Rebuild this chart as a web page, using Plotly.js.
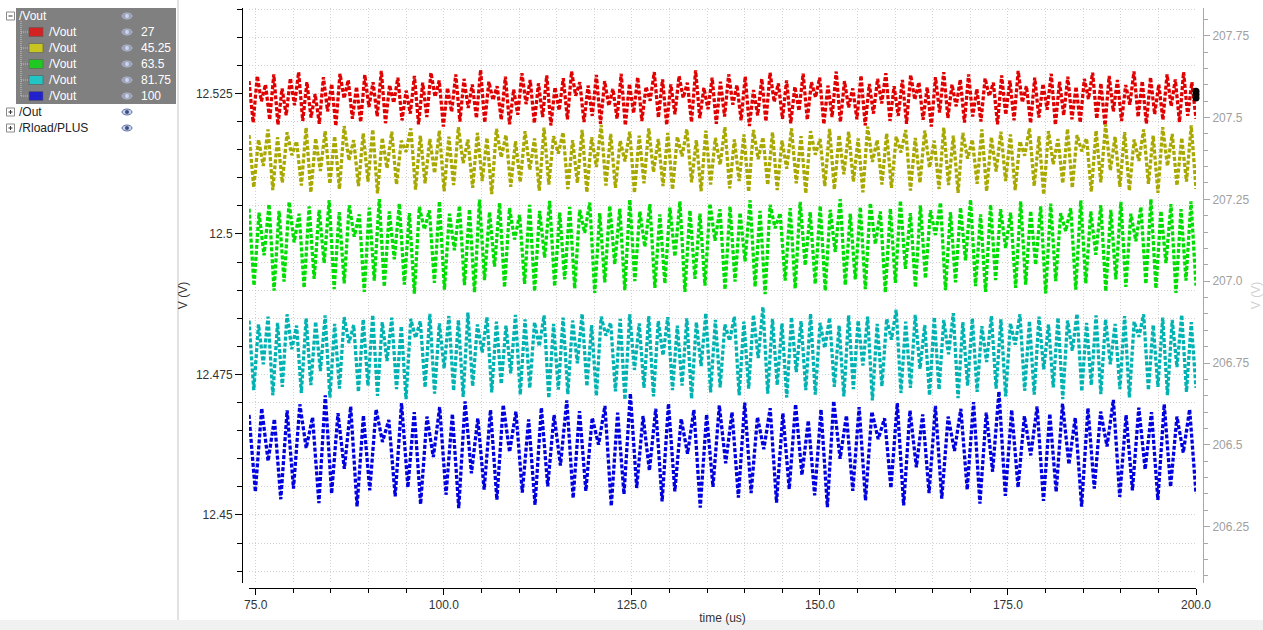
<!DOCTYPE html>
<html>
<head>
<meta charset="utf-8">
<script src="https://cdn.plot.ly/plotly-3.0.1.min.js"></script>
<style>
html,body{margin:0;padding:0;background:#fff;overflow:hidden;}
#chart{width:1263px;height:630px;}
</style>
</head>
<body>
<div id="chart"></div>
<script>
// ---------------- DATA ----------------
const timeStartUs = 74.1;
const timeEndUs = 200.0;

const seriesNames = ["/Vout", "/Vout", "/Vout", "/Vout", "/Vout"];
const seriesParams = ["27", "45.25", "63.5", "81.75", "100"];
const seriesColors = ["#e00000", "#a8a800", "#00dd00", "#00b2b2", "#0000e0"];
const swatchColors = ["#d42222", "#c8c420", "#22c822", "#22c4c4", "#2222cc"];

// ripple samples (V)
const vout27 = [
12.5272,12.5198,12.5281,12.5236,12.5266,12.5203,12.5284,12.5194,12.5259,12.5211,12.5277,12.5229,12.5288,12.5201,12.5270,12.5207,12.5249,12.5196,12.5279,12.5218,
12.5267,12.5192,12.5285,12.5241,12.5274,12.5205,12.5262,12.5199,12.5283,12.5226,12.5270,12.5209,12.5290,12.5197,12.5265,12.5233,12.5278,12.5202,12.5255,12.5214,
12.5281,12.5195,12.5269,12.5208,12.5287,12.5244,12.5273,12.5191,12.5260,12.5217,12.5284,12.5200,12.5276,12.5224,12.5266,12.5206,12.5292,12.5198,12.5271,12.5238,
12.5263,12.5203,12.5280,12.5195,12.5257,12.5212,12.5286,12.5231,12.5274,12.5197,12.5268,12.5208,12.5282,12.5193,12.5261,12.5220,12.5277,12.5204,12.5289,12.5246,
12.5270,12.5199,12.5264,12.5210,12.5283,12.5196,12.5272,12.5228,12.5258,12.5205,12.5285,12.5193,12.5267,12.5215,12.5279,12.5201,12.5262,12.5237,12.5288,12.5207,
12.5275,12.5194,12.5266,12.5213,12.5281,12.5242,12.5269,12.5199,12.5291,12.5206,12.5260,12.5222,12.5278,12.5196,12.5271,12.5209,12.5284,12.5230,12.5265,12.5202,
12.5280,12.5192,12.5256,12.5211,12.5276,12.5200,12.5287,12.5235,12.5268,12.5205,12.5273,12.5197,12.5262,12.5219,12.5285,12.5203,12.5270,12.5243,12.5278,12.5195,
12.5264,12.5208,12.5289,12.5199,12.5272,12.5225,12.5259,12.5204,12.5282,12.5193,12.5267,12.5214,12.5276,12.5232,12.5286,12.5201,12.5263,12.5210,12.5274,12.5196,
12.5283,12.5239,12.5270,12.5203,12.5261,12.5191,12.5279,12.5216,12.5288,12.5206,12.5266,12.5227,12.5275,12.5198,12.5284,12.5209,12.5258,12.5200,12.5277,12.5245,
12.5269,12.5195,12.5282,12.5212,12.5273,12.5202,12.5290,12.5234,12.5263,12.5197,12.5278,12.5207,12.5267,12.5221,12.5285,12.5194,12.5271,12.5211,12.5280,12.5204,
12.5262,12.5198,12.5276,12.5240,12.5287,12.5205,12.5268,12.5193,12.5281,12.5218,12.5274,12.5201,12.5265,12.5230,12.5289,12.5208,12.5272,12.5196,12.5279,12.5213,
12.5266,12.5203,12.5284,12.5227,12.5275,12.5199,12.5288,12.5210,12.5270,12.5205
];
const vout45 = [
12.5176,12.5083,12.5168,12.5121,12.5186,12.5078,12.5172,12.5091,12.5181,12.5140,12.5165,12.5086,12.5189,12.5074,12.5170,12.5112,12.5183,12.5089,12.5174,12.5080,
12.5192,12.5131,12.5167,12.5085,12.5179,12.5093,12.5186,12.5072,12.5171,12.5117,12.5182,12.5088,12.5166,12.5146,12.5188,12.5079,12.5175,12.5090,12.5169,12.5108,
12.5184,12.5076,12.5173,12.5087,12.5190,12.5126,12.5168,12.5082,12.5180,12.5094,12.5171,12.5071,12.5187,12.5136,12.5176,12.5084,12.5165,12.5092,12.5183,12.5114,
12.5170,12.5077,12.5189,12.5088,12.5174,12.5143,12.5181,12.5080,12.5167,12.5091,12.5185,12.5074,12.5172,12.5119,12.5194,12.5086,12.5178,12.5082,12.5166,12.5129,
12.5182,12.5073,12.5175,12.5090,12.5188,12.5110,12.5169,12.5085,12.5180,12.5079,12.5173,12.5138,12.5186,12.5092,12.5167,12.5076,12.5184,12.5088,12.5171,12.5123,
12.5190,12.5081,12.5168,12.5094,12.5177,12.5075,12.5185,12.5133,12.5172,12.5087,12.5181,12.5078,12.5166,12.5116,12.5188,12.5090,12.5174,12.5072,12.5183,12.5141,
12.5169,12.5085,12.5187,12.5079,12.5176,12.5106,12.5182,12.5093,12.5170,12.5074,12.5191,12.5128,12.5167,12.5088,12.5179,12.5082,12.5173,12.5145,12.5185,12.5077,
12.5171,12.5091,12.5184,12.5118,12.5166,12.5080,12.5189,12.5087,12.5175,12.5073,12.5180,12.5134,12.5168,12.5089,12.5186,12.5076,12.5172,12.5111,12.5182,12.5094,
12.5177,12.5078,12.5165,12.5139,12.5188,12.5085,12.5174,12.5070,12.5183,12.5124,12.5169,12.5090,12.5187,12.5082,12.5176,12.5147,12.5170,12.5075,12.5184,12.5092,
12.5195,12.5113,12.5173,12.5084,12.5181,12.5077,12.5168,12.5130,12.5186,12.5089,12.5175,12.5073,12.5190,12.5121,12.5178,12.5086,12.5171,12.5093,12.5193,12.5080
];
const vout63 = [
12.5045,12.4908,12.5038,12.4962,12.5053,12.4899,12.5041,12.4915,12.5057,12.4985,12.5036,12.4904,12.5049,12.4920,12.5043,12.4948,12.5060,12.4902,12.5039,12.4912,
12.5051,12.4995,12.5035,12.4897,12.5047,12.4917,12.5062,12.4906,12.5040,12.4955,12.5054,12.4910,12.5037,12.4894,12.5048,12.5008,12.5042,12.4913,12.5058,12.4901,
12.5036,12.4971,12.5050,12.4909,12.5044,12.4896,12.5061,12.4918,12.5039,12.4942,12.5055,12.4905,12.5046,12.4990,12.5034,12.4911,12.5052,12.4898,12.5041,12.4958,
12.5059,12.4907,12.5038,12.4919,12.5048,12.4903,12.5043,12.5002,12.5056,12.4895,12.5037,12.4914,12.5050,12.4946,12.5045,12.4900,12.5061,12.4916,12.5040,12.4977,
12.5053,12.4904,12.5035,12.4912,12.5047,12.4960,12.5058,12.4897,12.5042,12.4920,12.5036,12.4908,12.5054,12.4988,12.5044,12.4901,12.5049,12.4915,12.5038,12.4951,
12.5060,12.4906,12.5041,12.4893,12.5052,12.5010,12.5037,12.4917,12.5046,12.4903,12.5057,12.4944,12.5039,12.4911,12.5050,12.4899,12.5043,12.4968,12.5062,12.4909,
12.5036,12.4919,12.5048,12.4902,12.5055,12.4982,12.5040,12.4896,12.5045,12.4913,12.5059,12.4938,12.5037,12.4905,12.5051,12.4921,12.5042,12.4998,12.5056,12.4900,
12.5039,12.4914,12.5047,12.4953,12.5061,12.4907,12.5035,12.4897,12.5052,12.4918,12.5044,12.4975,12.5038,12.4904,12.5058,12.4910,12.5041,12.4945,12.5049,12.4894,
12.5054,12.4916,12.5037,12.5005,12.5046,12.4901,12.5060,12.4912,12.5040,12.4963,12.5051,12.4898,12.5043,12.4919,12.5057,12.4906,12.5036,12.4987,12.5048,12.4911,
12.5062,12.4903,12.5041,12.4948,12.5053,12.4895,12.5044,12.4917,12.5058,12.4908
];
const vout81 = [
12.4846,12.4722,12.4839,12.4768,12.4853,12.4713,12.4842,12.4728,12.4857,12.4795,12.4837,12.4717,12.4850,12.4731,12.4844,12.4756,12.4855,12.4709,12.4840,12.4725,
12.4852,12.4806,12.4838,12.4719,12.4848,12.4730,12.4856,12.4712,12.4843,12.4774,12.4851,12.4724,12.4836,12.4706,12.4849,12.4815,12.4845,12.4727,12.4858,12.4716,
12.4841,12.4761,12.4854,12.4721,12.4847,12.4710,12.4860,12.4729,12.4839,12.4789,12.4852,12.4718,12.4844,12.4733,12.4837,12.4752,12.4856,12.4714,12.4848,12.4726,
12.4843,12.4800,12.4855,12.4708,12.4840,12.4723,12.4851,12.4715,12.4846,12.4770,12.4858,12.4729,12.4838,12.4712,12.4853,12.4819,12.4842,12.4720,12.4849,12.4705,
12.4857,12.4758,12.4841,12.4726,12.4854,12.4711,12.4845,12.4784,12.4852,12.4722,12.4837,12.4730,12.4850,12.4707,12.4843,12.4765,12.4859,12.4718,12.4847,12.4727,
12.4839,12.4810,12.4853,12.4713,12.4844,12.4725,12.4856,12.4779,12.4870,12.4716,12.4849,12.4731,12.4841,12.4709,12.4852,12.4754,12.4845,12.4722,12.4858,12.4714,
12.4842,12.4797,12.4851,12.4728,12.4837,12.4711,12.4855,12.4724,12.4846,12.4766,12.4853,12.4704,12.4840,12.4729,12.4849,12.4812,12.4865,12.4717,12.4844,12.4726,
12.4856,12.4760,12.4838,12.4713,12.4852,12.4723,12.4847,12.4786,12.4859,12.4708,12.4843,12.4730,12.4850,12.4719,12.4836,12.4772,12.4854,12.4725,12.4848,12.4711,
12.4841,12.4803,12.4857,12.4721,12.4845,12.4714,12.4853,12.4759,12.4839,12.4727,12.4851,12.4706,12.4846,12.4792,12.4858,12.4720,12.4842,12.4731,12.4855,12.4715,
12.4848,12.4768,12.4840,12.4724,12.4854,12.4709,12.4844,12.4817,12.4857,12.4722,12.4838,12.4728,12.4851,12.4713,12.4847,12.4763,12.4856,12.4719,12.4843,12.4726
];
const vout100 = [
12.4678,12.4541,12.4690,12.4596,12.4671,12.4528,12.4686,12.4547,12.4697,12.4619,12.4674,12.4521,12.4713,12.4538,12.4681,12.4582,12.4693,12.4515,12.4677,12.4544,
12.4688,12.4630,12.4669,12.4533,12.4699,12.4549,12.4683,12.4519,12.4675,12.4603,12.4692,12.4536,12.4680,12.4512,12.4702,12.4574,12.4672,12.4545,12.4687,12.4527,
12.4696,12.4612,12.4684,12.4540,12.4670,12.4518,12.4691,12.4551,12.4678,12.4588,12.4704,12.4530,12.4685,12.4543,12.4673,12.4625,12.4694,12.4516,12.4682,12.4537,
12.4716,12.4548,12.4676,12.4579,12.4689,12.4524,12.4698,12.4542,12.4671,12.4609,12.4687,12.4513,12.4679,12.4550,12.4695,12.4592,12.4683,12.4531,12.4700,12.4539,
12.4674,12.4617,12.4690,12.4522,12.4681,12.4546,12.4697,12.4571,12.4668,12.4535,12.4688,12.4514,12.4703,12.4600,12.4677,12.4543,12.4692,12.4526,12.4684,12.4635,
12.4672,12.4548,12.4699,12.4517,12.4686,12.4585,12.4679,12.4539,12.4694,12.4529,12.4675,12.4614,12.4689,12.4545,12.4701,12.4520,12.4682,12.4577,12.4720,12.4534,
12.4687,12.4549,12.4676,12.4606,12.4693,12.4525,12.4680,12.4541,12.4698,12.4590,12.4673,12.4515,12.4690,12.4547,12.4684,12.4622,12.4705,12.4532,12.4678,12.4544,
12.4691,12.4581,12.4683,12.4527,12.4697,12.4550,12.4675,12.4611,12.4688,12.4538
];
const seriesValues = [vout27, vout45, vout63, vout81, vout100];

// cursor marker at the end of the red trace (right axis units)
const cursorTime = [200.0, 200.0, 200.0];
const cursorLevel = [207.5805, 207.5703, 207.5600];

// axis ticks
const xTickVals = [75, 100, 125, 150, 175, 200];
const leftTickVals = [12.45, 12.475, 12.5, 12.525];
const leftTickText = ["12.45", "12.475", "12.5", "12.525"];
const rightTickVals = [206.25, 206.5, 206.75, 207.0, 207.25, 207.5, 207.75];
const rightTickText = ["206.25", "206.5", "206.75", "207.0", "207.25", "207.5", "207.75"];

// browser tree rows
const treeTopLabel = "/Vout";
const treeOthers = ["/Out", "/Rload/PLUS"];

// ---------------- LAYOUT HELPERS ----------------
const W = 1263, H = 630;
const fx = p => p / W;
const fy = p => 1 - p / H;
const FONT = "Liberation Sans, Arial, sans-serif";

function timeBase(n) {
  const step = (timeEndUs - timeStartUs) / (n - 1);
  return Array.from({length: n}, (_, i) => timeStartUs + i * step);
}

const traces = seriesValues.map((vals, k) => ({
  type: "scatter", mode: "lines",
  x: timeBase(vals.length), y: vals,
  name: seriesNames[k] + " " + seriesParams[k],
  line: {color: seriesColors[k], width: 3.3, dash: "4px,2px"},
  hoverinfo: "skip", showlegend: false
}));
traces.push({
  type: "scatter", mode: "markers", x: cursorTime, y: cursorLevel, yaxis: "y2",
  marker: {color: "#000000", size: 7, symbol: "circle", line: {width: 0}},
  cliponaxis: false, showlegend: false, hoverinfo: "skip"
});

const shapes = [];
const annotations = [];

shapes.push({type: "rect", xref: "paper", yref: "paper", x0: fx(16), x1: fx(176), y0: fy(8), y1: fy(104),
  fillcolor: "#808080", line: {width: 0}, layer: "above"});
shapes.push({type: "line", xref: "paper", yref: "paper", x0: fx(178), x1: fx(178), y0: fy(0), y1: fy(620),
  line: {color: "#c4c4c4", width: 1}});
shapes.push({type: "rect", xref: "paper", yref: "paper", x0: 0, x1: 1, y0: 0, y1: fy(620),
  fillcolor: "#f1f1f1", line: {width: 0}});

function expander(cy, plus) {
  shapes.push({type: "rect", xref: "paper", yref: "paper", x0: fx(6.5), x1: fx(14.5), y0: fy(cy + 4), y1: fy(cy - 4),
    fillcolor: "#ffffff", line: {color: "#8a8a8a", width: 1}});
  shapes.push({type: "line", xref: "paper", yref: "paper", x0: fx(8.5), x1: fx(12.5), y0: fy(cy), y1: fy(cy),
    line: {color: "#333", width: 1}});
  if (plus) shapes.push({type: "line", xref: "paper", yref: "paper", x0: fx(10.5), x1: fx(10.5), y0: fy(cy - 2), y1: fy(cy + 2),
    line: {color: "#333", width: 1}});
}
function eye(cx, cy, light) {
  const c = light ? "#b0b8d0" : "#5f74a8";
  shapes.push({type: "circle", xref: "paper", yref: "paper", x0: fx(cx - 5), x1: fx(cx + 5), y0: fy(cy + 3), y1: fy(cy - 3),
    fillcolor: light ? "#96a0bc" : "#c8d0e6", line: {color: c, width: 1}, layer: "above"});
  shapes.push({type: "circle", xref: "paper", yref: "paper", x0: fx(cx - 2), x1: fx(cx + 2), y0: fy(cy + 2), y1: fy(cy - 2),
    fillcolor: light ? "#d0d6e6" : "#3b4f86", line: {width: 0}, layer: "above"});
}
function label(x, y, text, color) {
  annotations.push({xref: "paper", yref: "paper", x: fx(x), y: fy(y), text: text, showarrow: false,
    xanchor: "left", yanchor: "middle", font: {family: FONT, size: 12, color: color}});
}

expander(16, false);
label(17, 16, treeTopLabel, "#ffffff");
eye(127, 16, true);
shapes.push({type: "line", xref: "paper", yref: "paper", x0: fx(21), x1: fx(21), y0: fy(21), y1: fy(96),
  line: {color: "#c8c8c8", width: 1, dash: "1px,1px"}, layer: "above"});
seriesParams.forEach((p, k) => {
  const cy = 32 + 16 * k;
  shapes.push({type: "line", xref: "paper", yref: "paper", x0: fx(21), x1: fx(28), y0: fy(cy), y1: fy(cy),
    line: {color: "#c8c8c8", width: 1, dash: "1px,1px"}, layer: "above"});
  shapes.push({type: "rect", xref: "paper", yref: "paper", x0: fx(29), x1: fx(43), y0: fy(cy + 4.5), y1: fy(cy - 4.5),
    fillcolor: swatchColors[k], line: {color: "#5a5a5a", width: 0.6}, layer: "above"});
  label(47, cy, seriesNames[k], "#ffffff");
  eye(127, cy, true);
  label(139, cy, p, "#ffffff");
});
treeOthers.forEach((t, k) => {
  const cy = 112 + 16 * k;
  expander(cy, true);
  label(17, cy, t, "#222222");
  eye(127, cy, false);
});

const gridStyle = {gridcolor: "#d2d2d2", griddash: "1px,2px", gridwidth: 1};

const layout = {
  width: W, height: H,
  margin: {l: 0, r: 0, t: 0, b: 0, pad: 0},
  paper_bgcolor: "#ffffff", plot_bgcolor: "#ffffff",
  showlegend: false,
  font: {family: FONT, size: 12, color: "#333"},
  xaxis: {
    domain: [fx(249), fx(1196)], range: [timeStartUs, timeEndUs],
    anchor: "free", position: fy(588),
    showline: true, linecolor: "#000", linewidth: 1,
    ticks: "outside", ticklen: 6, tickcolor: "#000", tickwidth: 1,
    tickvals: xTickVals, tickformat: ".1f",
    tickfont: {family: FONT, size: 12, color: "#333"},
    showgrid: true, ...gridStyle, zeroline: false,
    minor: {dtick: 5, tick0: 75, ticks: "outside", ticklen: 4, tickcolor: "#000", showgrid: true, ...gridStyle},
    title: {text: "time (us)", font: {family: FONT, size: 12, color: "#333"}, standoff: 2},
    automargin: false, fixedrange: true
  },
  yaxis: {
    domain: [fy(583), fy(8)], range: [12.4379, 12.5402],
    anchor: "free", position: fx(242),
    showline: true, linecolor: "#000", linewidth: 1,
    ticks: "outside", ticklen: 7, tickcolor: "#000",
    tickvals: leftTickVals, ticktext: leftTickText,
    tickfont: {family: FONT, size: 12, color: "#333"},
    showgrid: true, ...gridStyle, zeroline: false,
    minor: {dtick: 0.005, tick0: 12.45, ticks: "outside", ticklen: 5, tickcolor: "#000", showgrid: true, ...gridStyle},
    title: {text: "V (V)", font: {family: FONT, size: 12, color: "#333"}, standoff: 4},
    automargin: false, fixedrange: true
  },
  yaxis2: {
    overlaying: "y", side: "right", anchor: "free", position: fx(1203),
    range: [206.078, 207.8346],
    showline: true, linecolor: "#a8a8a8", linewidth: 1,
    ticks: "outside", ticklen: 6, tickcolor: "#a8a8a8",
    tickvals: rightTickVals, ticktext: rightTickText,
    tickfont: {family: FONT, size: 12, color: "#a0a0a0"},
    showgrid: false, zeroline: false,
    minor: {dtick: 0.05, tick0: 206.25, ticks: "outside", ticklen: 4, tickcolor: "#a8a8a8", showgrid: false},
    title: {text: "V (V)", font: {family: FONT, size: 12, color: "#d0d0d0"}, standoff: 9},
    automargin: false, fixedrange: true
  },
  shapes: shapes,
  annotations: annotations
};

Plotly.newPlot("chart", traces, layout, {displayModeBar: false, staticPlot: true});
</script>
</body>
</html>
